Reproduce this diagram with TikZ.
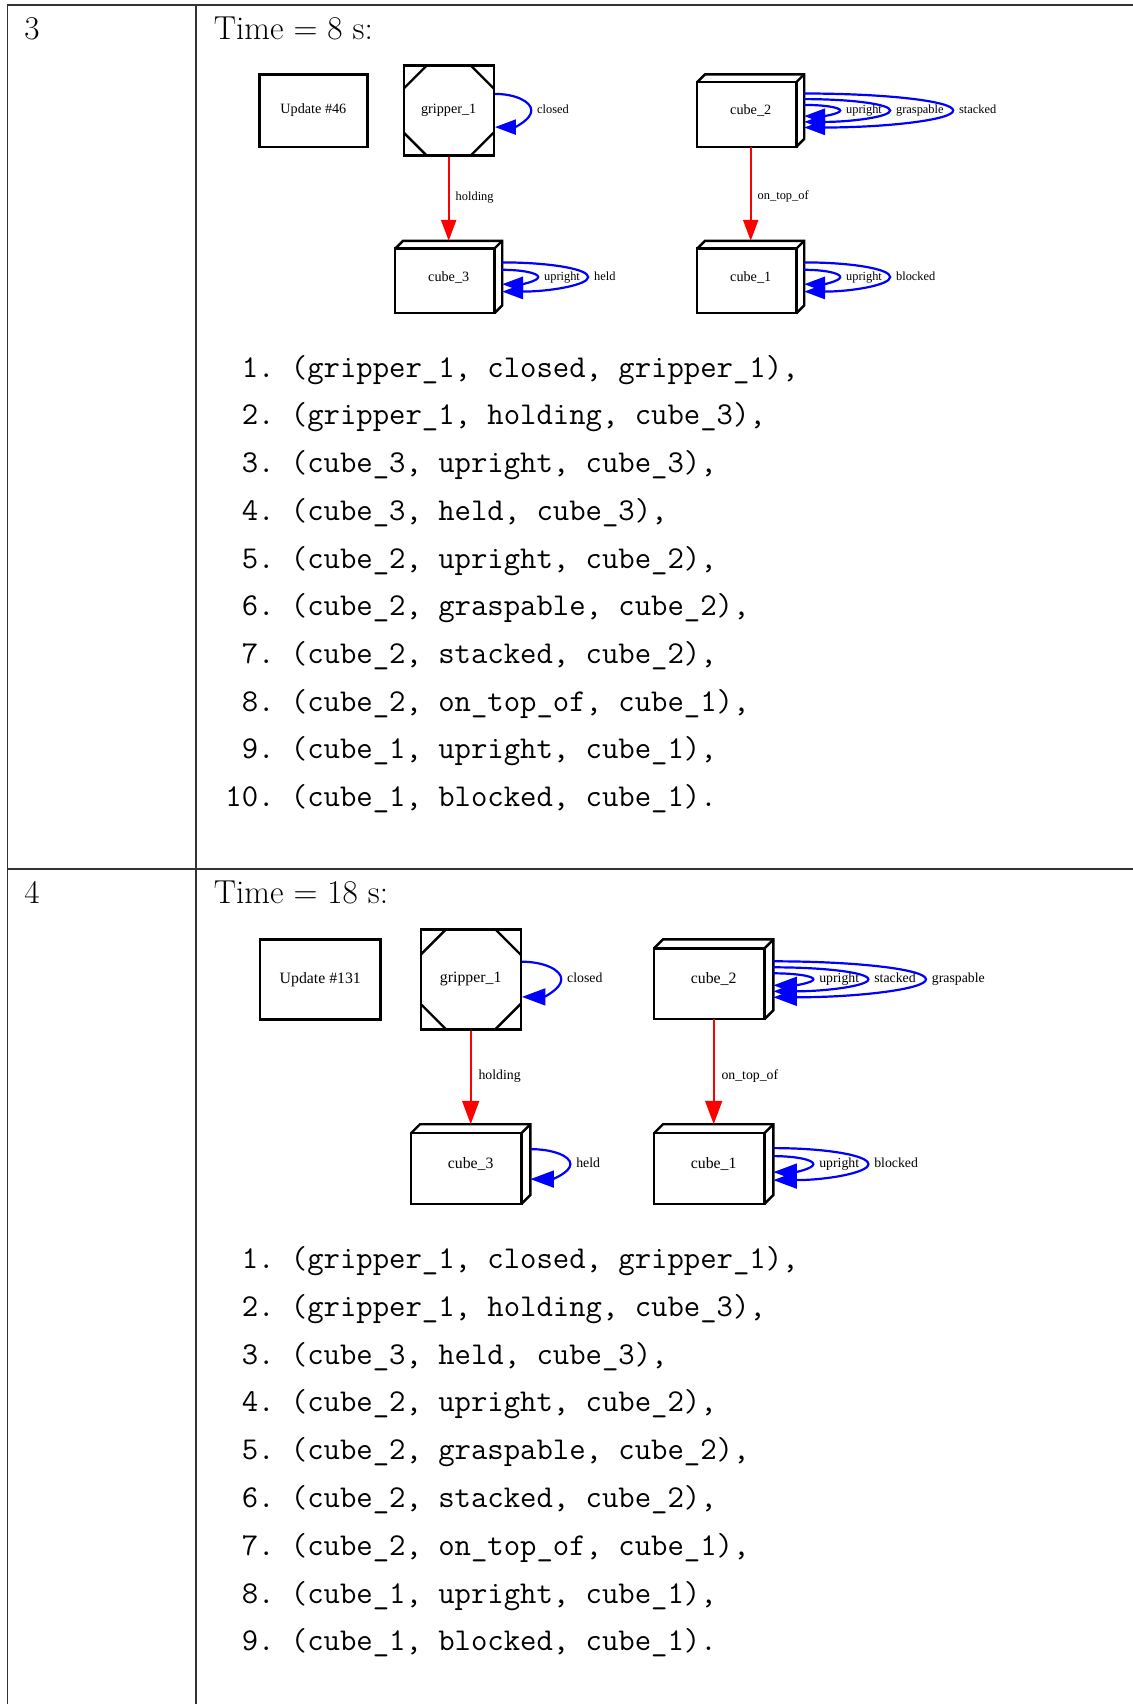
\documentclass[tikz,border=0pt]{standalone}
\usepackage{fontspec}
\newfontfamily\gvfont{Liberation Serif}
\usetikzlibrary{arrows.meta,positioning}

% corner cuts of the gripper box
\newcommand{\gripcut}{11.5pt}
\newcommand{\gripcorners}{%
	\draw[line width=1.2pt]
	([yshift=-\gripcut]path picture bounding box.north west) -- ([xshift=\gripcut]path picture bounding box.north west)
	([xshift=-\gripcut]path picture bounding box.north east) -- ([yshift=-\gripcut]path picture bounding box.north east)
	([yshift=\gripcut]path picture bounding box.south east) -- ([xshift=-\gripcut]path picture bounding box.south east)
	([xshift=\gripcut]path picture bounding box.south west) -- ([yshift=\gripcut]path picture bounding box.south west);}
% box3d outline round a cube node
\newcommand{\boxthreed}[2]{%
	\draw[gvline] (#1.south west) rectangle ([shift={(-#2,-#2)}]#1.north east);
	\draw[gvline] ([yshift=-#2]#1.north west) -- ([xshift=#2]#1.north west) -- (#1.north east) -- ([yshift=#2]#1.south east) -- ([xshift=-#2]#1.south east);
	\draw[gvline] ([shift={(-#2,-#2)}]#1.north east) -- (#1.north east);}
% self loop on the right side of a node
\newcommand{\selfloop}[4]{%
	\draw[loopedge] ([yshift=#2]#1.east) .. controls +(0.55*#3,0pt) and +(0pt,0.55*#2) .. ([xshift=#3]#1.east) node[looplabel] {#4} .. controls +(0pt,-0.55*#2) and +(0.55*#3,0pt) .. ([yshift=-#2]#1.east);}

\tikzset{%
	tablerule/.style = {draw=black!80, line width=0.8pt},
	cellhead/.style  = {anchor=base west, inner sep=0pt, font=\fontsize{16.6}{20}\selectfont},
	itemnum/.style   = {anchor=base east, inner sep=0pt, font=\ttfamily\fontsize{15.9}{19}\selectfont},
	itemtext/.style  = {anchor=base west, inner sep=0pt, font=\ttfamily\fontsize{15.9}{19}\selectfont},
	gvline/.style    = {line width=1.2pt, line join=miter},
	gvnode/.style    = {rectangle, inner sep=0pt, font=\gvfont\fontsize{7.1}{8}\selectfont},
	plainbox/.style  = {gvnode, draw, line width=1.2pt, minimum width=54pt, minimum height=36.2pt},
	gripbox/.style   = {gvnode, draw, line width=1.2pt, minimum size=45pt, path picture={\gripcorners}},
	cubebox/.style   = {gvnode, outer sep=0pt, minimum width=53.5pt, minimum height=36.2pt},
	holdedge/.style  = {draw=red, line width=1.2pt, ->},
	loopedge/.style  = {draw=blue, line width=1.1pt, ->},
	edgelabel/.style = {anchor=west, inner sep=0pt, xshift=2.9pt, text height=4.4pt, text depth=1.4pt, font=\gvfont\fontsize{6.2}{7}\selectfont},
	looplabel/.style = {anchor=west, inner sep=2.4pt, text height=4.4pt, text depth=1.4pt, font=\gvfont\fontsize{6.2}{7}\selectfont},
}

\begin{document}
\begin{tikzpicture}[x=0.5pt, y=0.5pt, >={Triangle[length=10.5pt,width=7.5pt]}]
	\useasboundingbox (0,0) rectangle (1133,-1704);

	% table
	\draw[tablerule] (1133,-5) -- (7.3,-5) -- (7.3,-1704);
	\draw[tablerule] (196,-5) -- (196,-1704);
	\draw[tablerule] (7.3,-868.7) -- (1133,-868.7);

	% row 3
	\node[cellhead] (rowthree) at (24,-39.5) {3};
	\node[cellhead] (timethree) at (213.5,-39.5) {Time = 8 s:};

	\node[gripbox] (gripper3) at (448.7,-110.5) {gripper\_1};
	\node[plainbox, left of=gripper3, node distance=67.65pt] (update3) {Update \#46};
	\node[cubebox, right of=gripper3, node distance=151pt] (cubetwo3) {cube\_2};
	\node[cubebox, below of=gripper3, node distance=83.25pt] (cubethree3) {cube\_3};
	\node[cubebox, below of=cubetwo3, node distance=83.25pt] (cubeone3) {cube\_1};
	\boxthreed{cubetwo3}{3.9pt}
	\boxthreed{cubethree3}{3.9pt}
	\boxthreed{cubeone3}{3.9pt}

	\draw[holdedge] (gripper3) -- node[edgelabel, pos=0.48] {holding} (cubethree3);
	\draw[holdedge] (cubetwo3) -- node[edgelabel, pos=0.53] {on\_top\_of} (cubeone3);
	\selfloop{gripper3}{8.3pt}{18.2pt}{closed}
	\selfloop{cubethree3}{3.6pt}{18pt}{upright}
	\selfloop{cubethree3}{7.3pt}{43pt}{held}
	\selfloop{cubetwo3}{2.8pt}{18pt}{upright}
	\selfloop{cubetwo3}{5.7pt}{43pt}{graspable}
	\selfloop{cubetwo3}{8.5pt}{74.5pt}{stacked}
	\selfloop{cubeone3}{3.6pt}{18pt}{upright}
	\selfloop{cubeone3}{7.3pt}{43pt}{blocked}

	\foreach \fact [count=\i] in {%
		{(gripper\_1, closed, gripper\_1),},
		{(gripper\_1, holding, cube\_3),},
		{(cube\_3, upright, cube\_3),},
		{(cube\_3, held, cube\_3),},
		{(cube\_2, upright, cube\_2),},
		{(cube\_2, graspable, cube\_2),},
		{(cube\_2, stacked, cube\_2),},
		{(cube\_2, on\_top\_of, cube\_1),},
		{(cube\_1, upright, cube\_1),},
		{(cube\_1, blocked, cube\_1).}} {
		\node[itemnum] (numthree\i) at (275,{-377.2-47.7*(\i-1)}) {\i.};
		\node[itemtext] (factthree\i) at (290.5,{-377.2-47.7*(\i-1)}) {\fact};
	}

	% row 4
	\node[cellhead] (rowfour) at (24,-903) {4};
	\node[cellhead] (timefour) at (213.5,-903) {Time = 18 s:};

	\begin{scope}[>={Triangle[length=11.7pt,width=8.4pt]},
		gvnode/.append style={font=\gvfont\fontsize{7.9}{9}\selectfont},
		plainbox/.append style={minimum width=60.3pt, minimum height=40pt},
		gripbox/.append style={minimum size=50pt},
		cubebox/.append style={minimum width=59.7pt, minimum height=39.9pt},
		edgelabel/.append style={xshift=0.4pt, text height=4.9pt, text depth=1.6pt, font=\gvfont\fontsize{6.9}{8}\selectfont},
		looplabel/.append style={text height=4.9pt, text depth=1.6pt, font=\gvfont\fontsize{6.9}{8}\selectfont}]
		\renewcommand{\gripcut}{12.7pt}
		\node[gripbox] (gripper4) at (470.7,-979.3) {gripper\_1};
		\node[plainbox, left of=gripper4, node distance=75.2pt] (update4) {Update \#131};
		\node[cubebox, right of=gripper4, node distance=121.5pt] (cubetwo4) {cube\_2};
		\node[cubebox, below of=gripper4, node distance=92.4pt] (cubethree4) {cube\_3};
		\node[cubebox, below of=cubetwo4, node distance=92.4pt] (cubeone4) {cube\_1};
		\boxthreed{cubetwo4}{4.5pt}
		\boxthreed{cubethree4}{4.5pt}
		\boxthreed{cubeone4}{4.5pt}

		\draw[holdedge] (gripper4) -- node[edgelabel, pos=0.485] {holding} (cubethree4);
		\draw[holdedge] (cubetwo4) -- node[edgelabel, pos=0.54] {on\_top\_of} (cubeone4);
		\selfloop{gripper4}{8.8pt}{19.7pt}{closed}
		\selfloop{cubethree4}{7.5pt}{20pt}{held}
		\selfloop{cubetwo4}{3pt}{20pt}{upright}
		\selfloop{cubetwo4}{6pt}{47.5pt}{stacked}
		\selfloop{cubetwo4}{9pt}{76.3pt}{graspable}
		\selfloop{cubeone4}{4pt}{20pt}{upright}
		\selfloop{cubeone4}{8pt}{47.5pt}{blocked}
	\end{scope}

	\foreach \fact [count=\i] in {%
		{(gripper\_1, closed, gripper\_1),},
		{(gripper\_1, holding, cube\_3),},
		{(cube\_3, held, cube\_3),},
		{(cube\_2, upright, cube\_2),},
		{(cube\_2, graspable, cube\_2),},
		{(cube\_2, stacked, cube\_2),},
		{(cube\_2, on\_top\_of, cube\_1),},
		{(cube\_1, upright, cube\_1),},
		{(cube\_1, blocked, cube\_1).}} {
		\node[itemnum] (numfour\i) at (275,{-1268.5-47.8*(\i-1)}) {\i.};
		\node[itemtext] (factfour\i) at (290.5,{-1268.5-47.8*(\i-1)}) {\fact};
	}
\end{tikzpicture}
\end{document}
